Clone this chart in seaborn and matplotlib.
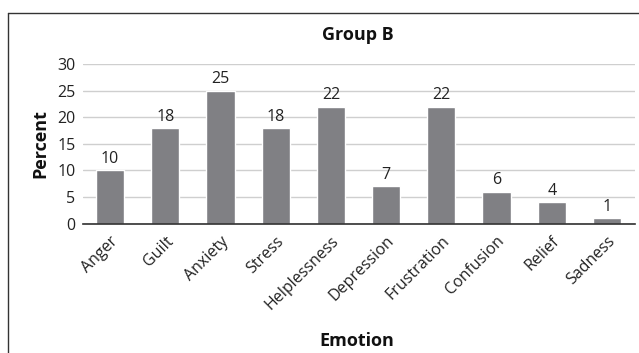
import matplotlib
matplotlib.use("Agg")
import matplotlib.pyplot as plt
import seaborn as sns
import pandas as pd
from matplotlib.lines import Line2D

emotions = ["Anger", "Guilt", "Anxiety", "Stress", "Helplessness", "Depression",
            "Frustration", "Confusion", "Relief", "Sadness"]
percent = [10, 18, 25, 18, 22, 7, 22, 6, 4, 1]
yticks = [0, 5, 10, 15, 20, 25, 30]

sns.set_theme(style="white")
plt.rcParams['font.family'] = ['Open Sans', 'DejaVu Sans']

df = pd.DataFrame({"Emotion": emotions, "Percent": percent})

fig = plt.figure(figsize=(6.39, 3.53), dpi=100)
ax = fig.add_axes([82.5/639, 1 - 223.5/353, 552/639, 159.5/353])
sns.barplot(data=df, x="Emotion", y="Percent", color="#808084", saturation=1,
            width=0.51, ax=ax, zorder=3)
ax.set_ylim(0, 30)
ax.set_yticks(yticks)
ax.set_xlim(-0.5, len(emotions) - 0.5)
ax.yaxis.grid(True, color="#cfcfcf", linewidth=1, zorder=0)
for s in ["top", "right", "left"]:
    ax.spines[s].set_visible(False)
ax.spines["bottom"].set_color("#303030")
ax.spines["bottom"].set_linewidth(1.2)
ax.spines["bottom"].set_zorder(4)
ax.tick_params(axis="both", length=0, labelsize=11.5, colors="#222222")
ax.tick_params(axis="y", pad=5)
ax.tick_params(axis="x", pad=7)
plt.setp(ax.get_xticklabels(), rotation=45, ha="right", rotation_mode="anchor")
for i, v in enumerate(percent):
    ax.text(i, v + 0.6, str(v), ha="center", va="bottom", fontsize=11.5, color="#222222")
ax.set_xlabel("")
ax.set_ylabel("Percent", fontsize=13, fontweight="bold", labelpad=6, color="#111111")
fig.text(358/639, 1 - 35/353, "Group B", ha="center", va="center",
         fontsize=13, fontweight="bold", color="#111111")
fig.text(357/639, 1 - 341/353, "Emotion", ha="center", va="center",
         fontsize=13, fontweight="bold", color="#111111")

fig.add_artist(Line2D([8/639, 8/639], [0, 1 - 13/353], color="#333333", linewidth=1,
                      transform=fig.transFigure))
fig.add_artist(Line2D([8/639, 1], [1 - 13/353, 1 - 13/353], color="#333333", linewidth=1,
                      transform=fig.transFigure))

fig.savefig("out.png", dpi=100, facecolor="white")
